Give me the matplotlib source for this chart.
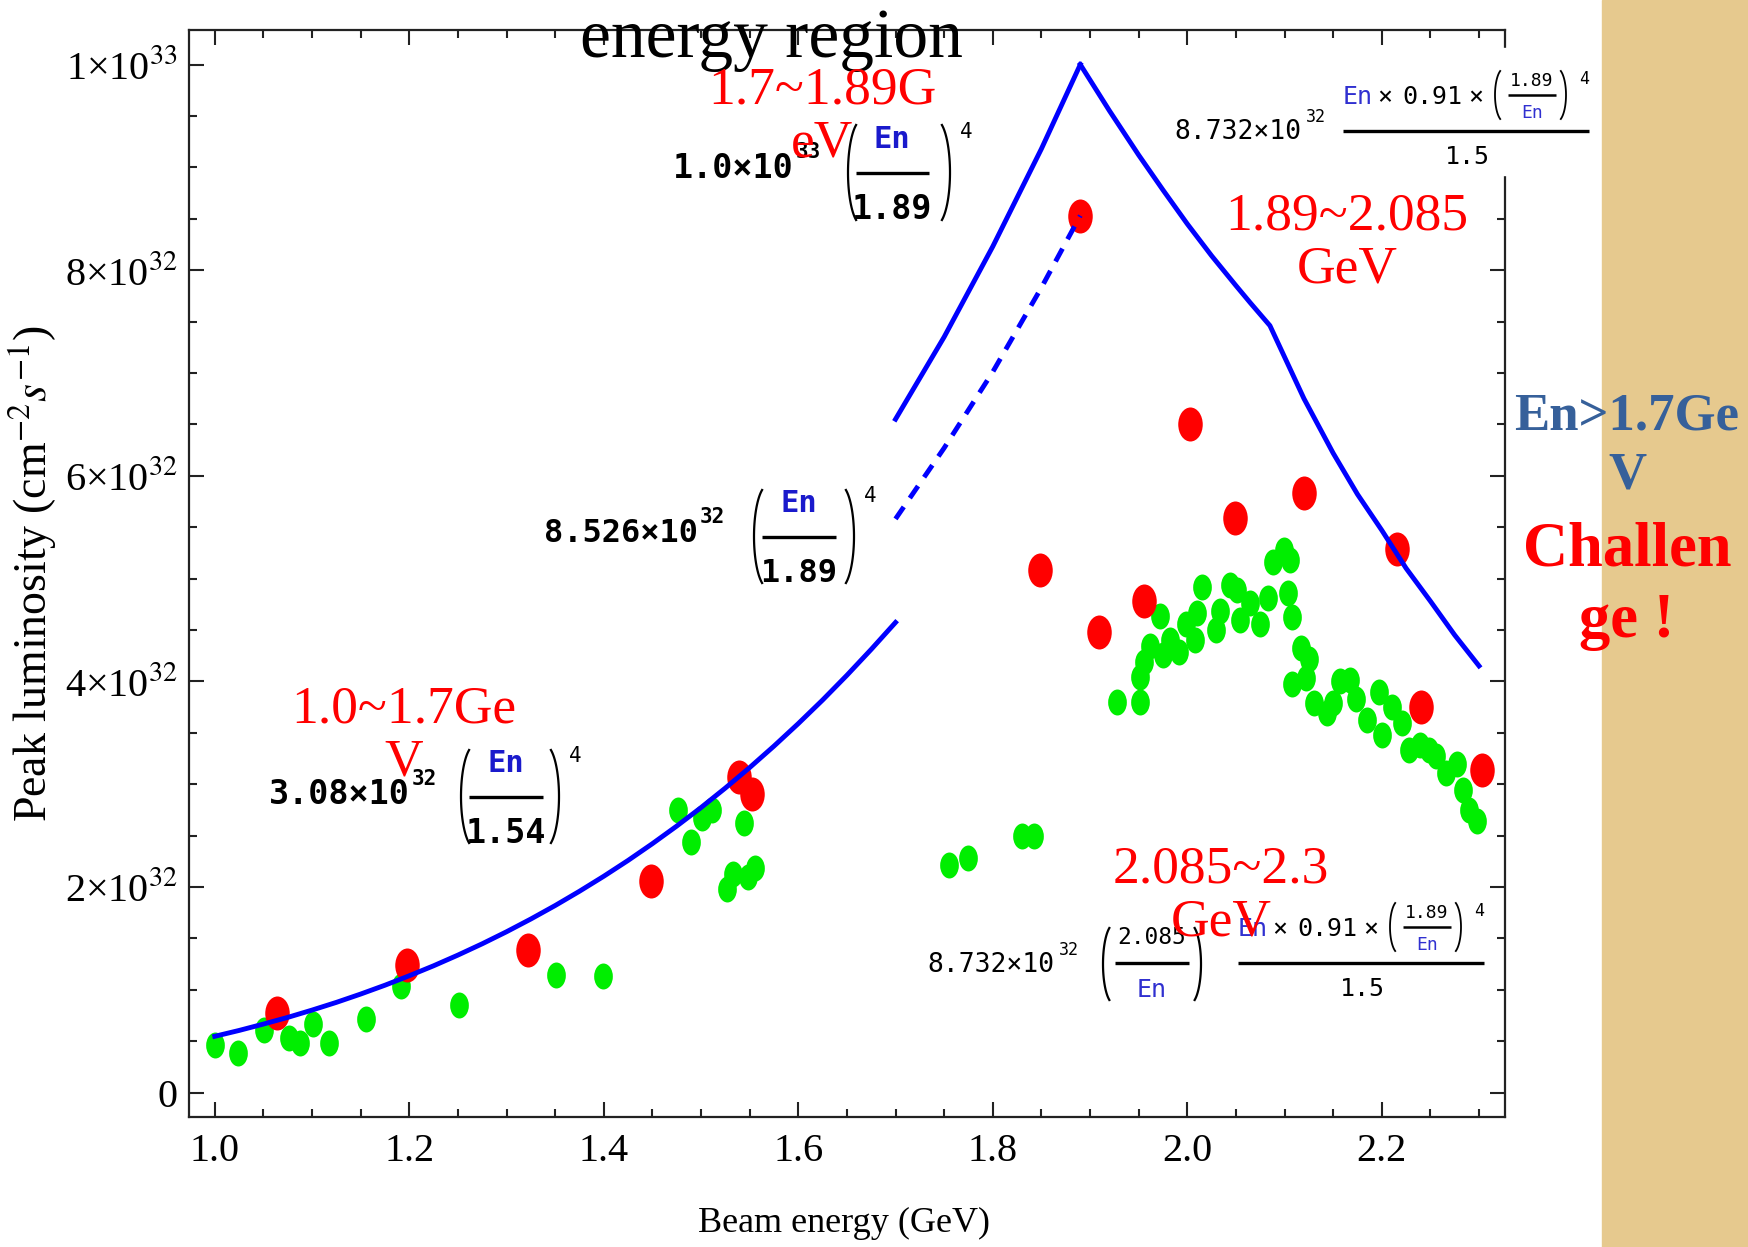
import numpy as np
import matplotlib
matplotlib.use("Agg")
import matplotlib.pyplot as plt
from matplotlib.path import Path
from matplotlib.patches import Rectangle
from matplotlib.ticker import MultipleLocator

# measured data (luminosity in units of 1e32 cm^-2 s^-1)
red_E = [1.064, 1.198, 1.322, 1.449, 1.539, 1.552, 1.849, 1.890, 1.909, 1.955,
         2.003, 2.049, 2.120, 2.216, 2.240, 2.303]
red_L = [0.77, 1.24, 1.39, 2.06, 3.07, 2.90, 5.08, 8.53, 4.48, 4.78,
         6.50, 5.59, 5.83, 5.29, 3.75, 3.14]

green_E = [1.000, 1.024, 1.051, 1.076, 1.088, 1.101, 1.117, 1.156, 1.192, 1.251,
           1.351, 1.399, 1.476, 1.490, 1.501, 1.511, 1.544, 1.527, 1.533, 1.548,
           1.556, 1.755, 1.775, 1.830, 1.842,
           1.928, 1.951, 1.951, 1.955, 1.962, 1.972, 1.975, 1.982, 1.992, 1.999,
           2.008, 2.010, 2.015, 2.030, 2.034, 2.044, 2.051, 2.054, 2.064, 2.075,
           2.083, 2.088, 2.099, 2.104, 2.106, 2.108, 2.108, 2.117, 2.125, 2.122,
           2.130, 2.144, 2.150, 2.157, 2.167, 2.174, 2.185, 2.197, 2.200, 2.211,
           2.221, 2.228, 2.239, 2.249, 2.256, 2.266, 2.277, 2.284, 2.290, 2.298]
green_L = [0.46, 0.38, 0.61, 0.53, 0.48, 0.67, 0.48, 0.72, 1.04, 0.85,
           1.14, 1.13, 2.75, 2.44, 2.67, 2.75, 2.62, 1.98, 2.13, 2.10,
           2.18, 2.21, 2.28, 2.50, 2.50,
           3.80, 3.80, 4.04, 4.19, 4.34, 4.64, 4.26, 4.40, 4.29, 4.56,
           4.40, 4.66, 4.92, 4.50, 4.68, 4.94, 4.89, 4.60, 4.76, 4.56,
           4.81, 5.16, 5.28, 4.86, 5.18, 4.63, 3.97, 4.32, 4.22, 4.03,
           3.79, 3.69, 3.79, 4.00, 4.01, 3.83, 3.62, 3.90, 3.48, 3.75,
           3.59, 3.33, 3.38, 3.33, 3.27, 3.11, 3.20, 2.94, 2.75, 2.64]

low_E = [1.000, 1.025, 1.050, 1.075, 1.100, 1.125, 1.150, 1.175, 1.200, 1.225,
         1.250, 1.275, 1.300, 1.325, 1.350, 1.375, 1.400, 1.425, 1.450, 1.475,
         1.500, 1.525, 1.550, 1.575, 1.600, 1.625, 1.650, 1.675, 1.700]
low_L = [0.547, 0.604, 0.666, 0.731, 0.802, 0.877, 0.958, 1.044, 1.136, 1.233,
         1.337, 1.447, 1.564, 1.688, 1.819, 1.958, 2.104, 2.258, 2.421, 2.592,
         2.772, 2.962, 3.161, 3.370, 3.589, 3.818, 4.059, 4.311, 4.573]

rise_E = [1.70, 1.75, 1.80, 1.85, 1.89]
rise_L = [6.55, 7.35, 8.23, 9.18, 10.0]
dash_L = [5.58, 6.27, 7.01, 7.83, 8.53]

fall_E = [1.89, 1.92, 1.95, 1.975, 2.00, 2.025, 2.05, 2.065, 2.085,
          2.12, 2.15, 2.175, 2.20, 2.225, 2.25, 2.275, 2.30]
fall_L = [10.0, 9.55, 9.12, 8.78, 8.45, 8.14, 7.85, 7.68, 7.46,
          6.75, 6.22, 5.82, 5.47, 5.10, 4.78, 4.45, 4.15]

x_ticks = [1.0, 1.2, 1.4, 1.6, 1.8, 2.0, 2.2]
x_labels = ["1.0", "1.2", "1.4", "1.6", "1.8", "2.0", "2.2"]
y_ticks = [0, 2, 4, 6, 8, 10]
y_labels = ["0", r"2×10$^{32}$", r"4×10$^{32}$", r"6×10$^{32}$", r"8×10$^{32}$", r"1×10$^{33}$"]

plt.rcParams["font.family"] = ["Liberation Serif", "DejaVu Serif"]
plt.rcParams["mathtext.fontset"] = "stix"

W, H = 1748, 1247
BLUE = "#0000ff"
MONO = "DejaVu Sans Mono"
SERIF = ["Liberation Serif", "DejaVu Serif"]

fig = plt.figure(figsize=(W / 100, H / 100), dpi=100)
ax = fig.add_axes([189 / W, 1 - 1116.7 / H, 1315.6 / W, 1086.7 / H])


def oval(ratio):
    c = Path.unit_circle()
    return Path(c.vertices * [ratio, 1.0], c.codes)


ax.plot(green_E, green_L, ls="none", marker=oval(0.72), ms=18.7,
        mfc="#00ee00", mec="none", zorder=2)
ax.plot(red_E, red_L, ls="none", marker=oval(0.72), ms=24.5,
        mfc="#ff0000", mec="none", zorder=3)
ax.plot(low_E, low_L, color=BLUE, lw=3.5, zorder=4)
ax.plot(rise_E, rise_L, color=BLUE, lw=3.5, zorder=4)
ax.plot(rise_E, dash_L, color=BLUE, lw=3.5, dashes=(3, 2.2), zorder=4)
ax.plot(fall_E, fall_L, color=BLUE, lw=3.5, zorder=4)

ax.set_xlim(0.9735, 2.3263)
ax.set_ylim(-0.235, 10.336)
ax.set_xticks(x_ticks)
ax.set_xticklabels(x_labels)
ax.set_yticks(y_ticks)
ax.set_yticklabels(y_labels)
ax.xaxis.set_minor_locator(MultipleLocator(0.05))
ax.yaxis.set_minor_locator(MultipleLocator(0.5))
ax.tick_params(which="both", direction="in", top=True, right=True, width=1.5, color="#222222")
ax.tick_params(which="major", length=11, labelsize=29)
ax.tick_params(which="minor", length=6)
ax.tick_params(axis="x", pad=12)
ax.tick_params(axis="y", pad=8)
for s in ax.spines.values():
    s.set_linewidth(1.6)
    s.set_color("#222222")

ax.set_xlabel("Beam energy (GeV)", fontsize=26, va="center")
ax.xaxis.set_label_coords(0.498, -0.098)
ax.set_ylabel(r"Peak luminosity (cm$^{-2}s^{-1}$)", fontsize=33, va="center")
ax.yaxis.set_label_coords(-0.1186, 0.5)

# overlay in figure pixel coordinates
ov = fig.add_axes([0, 0, 1, 1])
ov.set_xlim(0, W)
ov.set_ylim(H, 0)
ov.axis("off")
ov.patch.set_alpha(0)

ov.add_patch(Rectangle((1602, 0), W - 1602, H, color="#e6c98e", zorder=0))
ov.add_patch(Rectangle((1165, 48), 432, 127, color="white", zorder=1))


def t(x, y, s, size, color="black", ha="left", weight="normal", family=MONO, va="center"):
    ov.text(x, y, s, fontsize=size, color=color, ha=ha, va=va,
            fontweight=weight, family=family, zorder=5)


def bar(x0, x1, y, lw=2.4):
    ov.plot([x0, x1], [y, y], color="black", lw=lw, solid_capstyle="butt", zorder=5)


def paren(x, y0, y1, left=True, a=14, lw=1.6):
    cy = (y0 + y1) / 2
    b = (y1 - y0) / 2 / np.sin(np.radians(65))
    if left:
        th = np.radians(np.linspace(115, 245, 40))
        cx = x + a
    else:
        th = np.radians(np.linspace(-65, 65, 40))
        cx = x - a
    ov.plot(cx + a * np.cos(th), cy + b * np.sin(th), color="black", lw=lw, zorder=5)


def simple_formula(px, py, prefix, exp, num, den, x_par, x_close, ytop, ybot, fx, wbar, size):
    t(px, py, prefix, size, weight="bold")
    t(px + len(prefix) * size * 0.602 * 100 / 72 + 2, py - 16, exp, 15, weight="bold")
    paren(x_par, ytop, ybot, True)
    paren(x_close, ytop, ybot, False)
    cy = (ytop + ybot) / 2
    t(fx, cy - 33, num, 22, color="#1a1acc", ha="center", weight="bold")
    bar(fx - wbar / 2, fx + wbar / 2, cy)
    t(fx, cy + 37, den, size, ha="center", weight="bold")
    t(x_close + 10, cy - 40, "4", 15)


simple_formula(673, 168, "1.0×10", "33", "En", "1.89", 848, 950, 125, 220, 892, 73, 24)
simple_formula(544, 533, "8.526×10", "32", "En", "1.89", 754, 854, 490, 583, 799, 74, 23)
simple_formula(269, 795, "3.08×10", "32", "En", "1.54", 461, 559, 750, 843, 506, 74, 24)


def big_fraction(x0, x1, y):
    # En x 0.91 x (1.89/En)^4 over 1.5
    bar(x0, x1, y, lw=2.4)
    t(x0, y - 34, "En", 18, color="#3030d0")
    t(x0 + 42, y - 34, "×", 18, ha="center")
    t(x0 + 89, y - 34, "0.91", 18, ha="center")
    t(x0 + 133, y - 34, "×", 18, ha="center")
    pc = x0 + 189
    paren(x0 + 152, y - 60, y - 12, True, a=9, lw=1.3)
    t(pc, y - 50, "1.89", 13, ha="center")
    bar(pc - 24, pc + 24, y - 36, lw=1.8)
    t(pc, y - 18, "En", 13, color="#3030d0", ha="center")
    paren(pc + 34, y - 60, y - 12, False, a=9, lw=1.3)
    t(pc + 47, y - 52, "4", 12)
    t(x0 + 124, y + 26, "1.5", 18, ha="center")


t(1174, 132, "8.732×10", 19)
t(1306, 117, "32", 12)
big_fraction(1343, 1589, 131)

t(927, 965, "8.732×10", 19)
t(1059, 950, "32", 12)
paren(1103, 928, 1000, True, a=11)
paren(1201, 928, 1000, False, a=11)
t(1152, 937, "2.085", 16.5, ha="center")
bar(1115, 1189, 963)
t(1152, 990, "En", 18, color="#3030d0", ha="center")
big_fraction(1238, 1484, 963)

t(771, 57, "energy region", 50, family=SERIF, ha="center", va="baseline")
for (x, y, s) in [(822, 117, "1.7~1.89G\neV"), (1347, 243, "1.89~2.085\nGeV"),
                  (404, 736, "1.0~1.7Ge\nV"), (1221, 896, "2.085~2.3\nGeV")]:
    ov.text(x, y, s, fontsize=38.5, color="#ff0000", ha="center", va="center",
            ma="center", family=SERIF, linespacing=1.15, zorder=6)
ov.text(1627, 446, "En>1.7Ge\nV", fontsize=38, color="#36609a", ha="center", va="center",
        ma="center", family=SERIF, fontweight="bold", linespacing=1.3, zorder=6)
ov.text(1627, 586, "Challen\nge !", fontsize=45, color="#ff0000", ha="center", va="center",
        ma="center", family=SERIF, fontweight="bold", linespacing=1.3, zorder=6)

fig.savefig("out.png", dpi=100)
